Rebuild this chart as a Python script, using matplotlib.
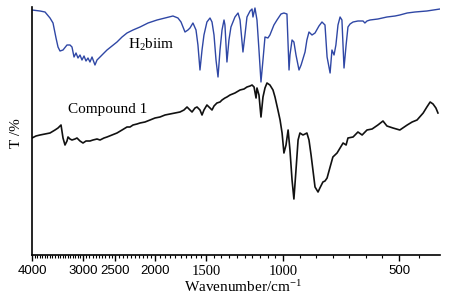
import numpy as np
import matplotlib
matplotlib.use("Agg")
import matplotlib.pyplot as plt
from matplotlib.ticker import FixedLocator, NullFormatter

plt.rcParams['mathtext.fontset'] = 'custom'
plt.rcParams['mathtext.rm'] = 'Liberation Serif'
plt.rcParams['mathtext.it'] = 'Liberation Serif:italic'

# ---------------- data ----------------
h2biim_wn = [4000, 3843, 3745, 3647, 3588, 3529, 3490, 3451, 3392, 3314,
             3255, 3216, 3176, 3137, 3098, 3059, 3020, 2984, 2953, 2922,
             2891, 2859, 2813, 2781, 2734, 2672, 2625, 2547, 2475, 2412,
             2350, 2275, 2187, 2087, 1980, 1902, 1824, 1775, 1745, 1706,
             1677, 1657, 1628, 1598, 1579, 1559, 1539, 1520, 1494, 1474,
             1461, 1448, 1435, 1422, 1409, 1396, 1383, 1377, 1364, 1351,
             1338, 1312, 1292, 1279, 1260, 1247, 1234, 1214, 1201, 1195,
             1182, 1169, 1156, 1143, 1130, 1117, 1098, 1085, 1059, 1039,
             1013, 996, 983, 974, 970, 961, 953, 944, 931, 922,
             905, 897, 888, 875, 862, 845, 832, 819, 810, 797,
             789, 780, 772, 763, 754, 746, 737, 728, 720, 711,
             698, 677, 655, 647, 638, 625, 591, 552, 517, 498,
             480, 461, 432, 400]
h2biim_t = [245, 244, 243, 237, 232, 217, 208, 204, 205, 210,
            210, 208, 198, 202, 197, 200, 195, 199, 194, 197,
            193, 198, 190, 195, 198, 202, 205, 209, 213, 218,
            222, 225, 228, 232, 235, 237, 239, 237, 233, 223,
            225, 227, 232, 225, 210, 185, 205, 220, 233, 237,
            233, 220, 195, 178, 205, 225, 235, 230, 193, 215,
            228, 238, 242, 235, 203, 220, 238, 244, 246, 238,
            247, 235, 205, 173, 195, 218, 217, 220, 230, 235,
            241, 242, 241, 185, 200, 215, 213, 200, 185, 190,
            203, 215, 223, 220, 222, 229, 233, 230, 198, 182,
            205, 200, 210, 230, 238, 235, 187, 210, 228, 231,
            233, 234, 234, 232, 234, 235, 236, 238, 239, 240,
            242, 243, 244, 246]

cpd1_wn = [4000, 3922, 3843, 3745, 3647, 3549, 3490, 3431, 3392, 3353,
           3314, 3294, 3255, 3216, 3157, 3118, 3059, 3000, 2953, 2891,
           2844, 2781, 2734, 2672, 2625, 2547, 2475, 2412, 2350, 2312,
           2275, 2225, 2187, 2125, 2062, 2000, 1951, 1902, 1853, 1804,
           1755, 1716, 1686, 1657, 1637, 1608, 1588, 1559, 1539, 1520,
           1494, 1474, 1461, 1448, 1429, 1409, 1396, 1377, 1364, 1344,
           1312, 1279, 1253, 1234, 1214, 1201, 1188, 1175, 1169, 1156,
           1143, 1130, 1117, 1104, 1085, 1065, 1052, 1033, 1019, 1006,
           996, 987, 978, 970, 961, 953, 944, 935, 927, 914,
           905, 897, 888, 879, 871, 862, 849, 841, 828, 819,
           810, 797, 785, 767, 754, 741, 728, 720, 698, 677,
           659, 638, 616, 591, 569, 552, 526, 498, 480, 468,
           456, 441, 432, 424, 417, 410, 405]
cpd1_t = [117, 119, 120, 121, 122, 125, 127, 130, 117, 110,
          114, 118, 116, 115, 116, 117, 114, 112, 114, 114,
          115, 116, 115, 117, 118, 120, 122, 125, 128, 128,
          130, 131, 132, 133, 135, 137, 138, 140, 141, 142,
          143, 145, 148, 145, 143, 147, 148, 145, 140, 145,
          150, 147, 145, 149, 152, 153, 155, 157, 158, 160,
          162, 165, 166, 168, 169, 170, 168, 157, 167, 160,
          138, 158, 167, 172, 170, 165, 158, 145, 135, 122,
          102, 110, 125, 105, 75, 56, 85, 115, 122, 120,
          121, 122, 115, 100, 85, 68, 63, 67, 73, 74,
          77, 88, 98, 102, 107, 112, 110, 117, 118, 123,
          120, 125, 126, 130, 134, 129, 127, 125, 130, 133,
          135, 142, 148, 153, 151, 147, 142]

major_ticks = [4000, 3000, 2500, 2000, 1500, 1000, 500]
major_labels = ['4000', '3000', '2500', '2000', '1500', '1000', '500']
series_labels = [r'H$_\mathregular{2}$biim', 'Compound 1']

# ---------------- axis scale (spectrometer-style compressed axis) ----------------
WN_ANCH = np.array([0, 400, 500, 1000, 1500, 2000, 2500, 3000, 4000, 5000], float)
POS_ANCH = np.array([-604, -440, -399, -283, -206, -155, -115, -83, -32, 19], float)


def fwd(w):
    return np.interp(np.asarray(w, float), WN_ANCH, POS_ANCH)


def inv(p):
    return np.interp(np.asarray(p, float), POS_ANCH, WN_ANCH)


fig = plt.figure(figsize=(4.51, 2.94), dpi=100)
ax = fig.add_axes([32 / 451, 39 / 294, 408 / 451, 248 / 294])
ax.set_xscale('function', functions=(fwd, inv))

ax.plot(h2biim_wn, h2biim_t, color='#2f47a5', lw=1.0)
ax.plot(cpd1_wn, cpd1_t, color='#111111', lw=1.2)

ax.set_xlim(4000, 400)
ax.set_ylim(0, 248)

for s in ['top', 'right']:
    ax.spines[s].set_visible(False)
for s in ['left', 'bottom']:
    ax.spines[s].set_linewidth(1.2)

ax.set_yticks([])
ax.xaxis.set_major_locator(FixedLocator(major_ticks))
ax.set_xticklabels(major_labels)
minor = list(np.arange(3950, 1000, -50)) + list(np.linspace(1000, 500, 8)[1:-1]) + [451]
ax.xaxis.set_minor_locator(FixedLocator(minor))
ax.xaxis.set_minor_formatter(NullFormatter())
ax.tick_params(axis='x', which='major', direction='out', length=4.5, width=1.0, pad=3)
ax.tick_params(axis='x', which='minor', direction='out', length=2.5, width=0.8)
for lab in ax.get_xticklabels():
    txt = lab.get_text()
    if txt in ('1500', '1000'):
        lab.set_fontfamily('Liberation Serif')
        lab.set_fontsize(10.5)
    else:
        lab.set_fontfamily('Liberation Sans')
        lab.set_fontsize(9.5)

ax.set_xlabel(r'Wavenumber/cm$^\mathregular{-1}$', family='Liberation Serif',
              fontsize=11)
ax.xaxis.set_label_coords((243 - 32) / 408, -0.098)
ax.set_ylabel('T /%', family='Liberation Serif', fontsize=11)
ax.yaxis.set_label_coords(-0.022, 0.49)

ax.text(2337, 210, series_labels[0], family='Liberation Serif', fontsize=11,
        va='center', ha='left')
ax.text(3300, 145, series_labels[1], family='Liberation Serif', fontsize=11,
        va='center', ha='left')

fig.savefig('out.png', dpi=100)
